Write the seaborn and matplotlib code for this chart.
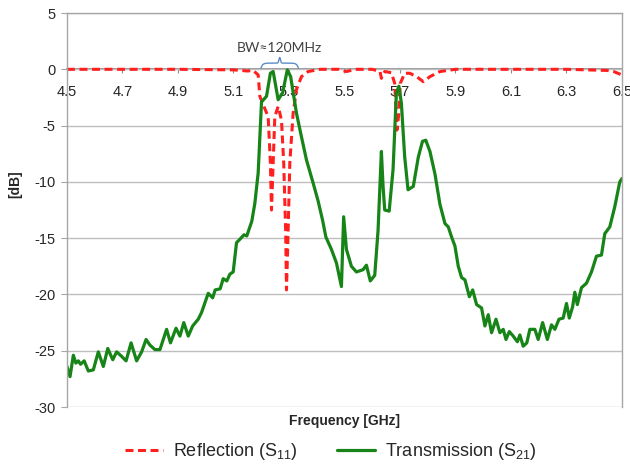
import numpy as np
import pandas as pd
import matplotlib
matplotlib.use("Agg")
import matplotlib.pyplot as plt
import seaborn as sns

# transmission S21
freq_s21 = [4.500, 4.511, 4.523, 4.532, 4.541, 4.549, 4.562, 4.577, 4.595, 4.613,
            4.631, 4.647, 4.665, 4.679, 4.697, 4.713, 4.731, 4.751, 4.769, 4.785,
            4.799, 4.817, 4.835, 4.859, 4.873, 4.893, 4.907, 4.921, 4.937, 4.953,
            4.973, 4.985, 5.009, 5.025, 5.034, 5.052, 5.063, 5.076, 5.087, 5.099,
            5.111, 5.123, 5.138, 5.148, 5.166, 5.177, 5.189, 5.201, 5.219, 5.233,
            5.243, 5.261, 5.277, 5.294, 5.306, 5.327, 5.345, 5.363, 5.387, 5.405,
            5.421, 5.433, 5.453, 5.471, 5.489, 5.497, 5.507, 5.525, 5.543, 5.567,
            5.579, 5.593, 5.609, 5.621, 5.633, 5.639, 5.645, 5.661, 5.675, 5.687,
            5.696, 5.705, 5.717, 5.729, 5.748, 5.766, 5.781, 5.793, 5.808, 5.826,
            5.844, 5.862, 5.874, 5.886, 5.898, 5.910, 5.922, 5.934, 5.950, 5.962,
            5.976, 5.994, 6.006, 6.018, 6.030, 6.046, 6.060, 6.072, 6.082, 6.094,
            6.108, 6.123, 6.132, 6.144, 6.157, 6.168, 6.186, 6.198, 6.214, 6.231,
            6.246, 6.258, 6.273, 6.288, 6.300, 6.310, 6.322, 6.330, 6.339, 6.354,
            6.372, 6.390, 6.408, 6.426, 6.438, 6.456, 6.474, 6.492, 6.500]
s21 = [-26.4, -27.3, -25.4, -26.1, -25.9, -26.2, -25.9, -26.8, -26.7, -25.1,
       -26.4, -24.8, -25.8, -25.1, -25.5, -25.9, -24.3, -25.9, -25.1, -24.0,
       -24.5, -24.9, -24.9, -23.1, -24.3, -23.0, -23.7, -22.5, -23.7, -22.8,
       -22.2, -21.6, -19.9, -20.3, -19.6, -19.5, -18.6, -18.8, -18.2, -18.0,
       -15.4, -15.1, -14.7, -14.8, -13.5, -11.9, -9.2, -2.9, -2.4, -0.35,
       -0.2, -2.7, -2.1, -0.05, -0.65, -3.9, -6.0, -8.05, -10.1, -11.7,
       -13.4, -14.9, -16.0, -17.2, -19.3, -13.1, -16.0, -17.5, -18.0, -17.8,
       -17.4, -18.8, -18.3, -14.3, -7.3, -10.4, -12.5, -12.6, -8.9, -2.1,
       -1.5, -3.0, -7.8, -10.7, -10.4, -7.8, -6.4, -6.3, -7.3, -9.3,
       -12.0, -13.7, -14.0, -14.9, -15.7, -17.5, -18.5, -18.7, -20.2, -19.6,
       -20.9, -21.2, -22.8, -21.8, -23.4, -22.2, -23.4, -23.1, -24.0, -23.3,
       -23.7, -24.2, -23.6, -24.6, -24.3, -23.1, -23.1, -24.0, -22.5, -24.0,
       -22.7, -23.1, -22.2, -22.1, -20.8, -22.1, -21.1, -19.8, -20.9, -19.4,
       -19.0, -18.0, -16.6, -16.5, -14.6, -14.0, -12.2, -10.0, -9.7]

# reflection S11
freq_s11 = [4.500, 4.700, 4.900, 5.100, 5.150, 5.171, 5.189, 5.195, 5.213, 5.225,
            5.233, 5.237, 5.243, 5.249, 5.261, 5.273, 5.281, 5.288, 5.291, 5.297,
            5.303, 5.315, 5.327, 5.345, 5.369, 5.412, 5.480, 5.507, 5.540, 5.600,
            5.628, 5.633, 5.645, 5.669, 5.681, 5.689, 5.696, 5.701, 5.717, 5.735,
            5.760, 5.784, 5.808, 5.844, 5.900, 6.100, 6.300, 6.445, 6.470, 6.500]
s11 = [0.0, 0.0, 0.0, -0.05, -0.15, -0.1, -0.5, -2.4, -3.5, -4.2,
       -8.3, -12.5, -8.3, -4.2, -3.3, -4.5, -8.3, -14.3, -19.6, -14.3,
       -8.3, -3.9, -1.8, -0.65, -0.2, 0.0, 0.0, -0.2, 0.0, 0.0,
       -0.2, -0.8, -0.2, -0.3, -1.25, -5.4, -3.9, -1.25, -0.35, -0.35,
       -0.65, -1.1, -0.65, -0.2, 0.0, 0.0, 0.0, -0.1, -0.2, -0.5]

x_ticks = [4.5, 4.7, 4.9, 5.1, 5.3, 5.5, 5.7, 5.9, 6.1, 6.3, 6.5]
y_ticks = [5, 0, -5, -10, -15, -20, -25, -30]
bw_label = "BW\u2248120MHz"
bw_lo, bw_hi = 5.199, 5.334

sns.set_theme(style="white")
plt.rcParams["font.family"] = ["Liberation Sans", "DejaVu Sans"]
plt.rcParams["mathtext.fontset"] = "custom"
plt.rcParams["mathtext.rm"] = "Liberation Sans"
plt.rcParams["axes.unicode_minus"] = False

df11 = pd.DataFrame({"f": freq_s11, "db": s11})
df21 = pd.DataFrame({"f": freq_s21, "db": s21})

fig = plt.figure(figsize=(6.3, 4.68), dpi=100)
ax = fig.add_axes([0.1063, 0.1303, 0.8810, 0.8419])

sns.lineplot(data=df11, x="f", y="db", ax=ax, estimator=None, color="#FF1F1F",
             linewidth=2.2, linestyle=(0, (2.6, 1.5)),
             label="Reflection (S$_{\\mathregular{11}}$)")
sns.lineplot(data=df21, x="f", y="db", ax=ax, estimator=None, color="#178417",
             linewidth=2.3, label="Transmission (S$_{\\mathregular{21}}$)")

ax.set_xlim(4.5, 6.5)
ax.set_ylim(-30, 5)
ax.set_yticks(y_ticks)
ax.set_xticks(x_ticks)
ax.set_xticklabels([f"{v:.1f}" for v in x_ticks])
ax.yaxis.grid(True, color="#BEBEBE", linewidth=1.0)
ax.set_axisbelow(True)

for side in ["top", "right", "left"]:
    ax.spines[side].set_visible(True)
    ax.spines[side].set_color("#A6A6A6")
    ax.spines[side].set_linewidth(1.0)
ax.spines["bottom"].set_position(("data", 0))
ax.spines["bottom"].set_color("#8C8C8C")
ax.spines["bottom"].set_zorder(0.5)

ax.tick_params(axis="y", direction="out", length=4, width=0.8, color="#A6A6A6",
               labelsize=10.5, pad=4, left=True)
ax.tick_params(axis="x", direction="out", length=3, width=0.8, color="#8C8C8C",
               labelsize=10.5, pad=8, bottom=True)

ax.set_xlabel("Frequency [GHz]", fontsize=10, fontweight="bold")
ax.xaxis.set_label_coords(0.50, -0.018)
ax.set_ylabel("[dB]", fontsize=10, fontweight="bold")
ax.yaxis.set_label_coords(-0.08, 0.565)

# bandwidth brace
t = np.linspace(0, 1, 200)
half = np.where(t < 0.5, t / 0.5, (1 - t) / 0.5)
brace_y = 0.1 + 0.45 * (1 - np.exp(-half * 12)) + 0.5 * np.exp(-((t - 0.5) / 0.03) ** 2)
ax.plot(bw_lo + t * (bw_hi - bw_lo), brace_y, color="#5B8CC6", linewidth=1.0)
ax.text((bw_lo + bw_hi) / 2, 1.35, bw_label, ha="center", va="bottom",
        fontsize=10, color="#404040", family=["Lato", "DejaVu Sans"])

leg = ax.legend(loc="upper center", bbox_to_anchor=(0.475, -0.055), ncol=2,
                frameon=False, fontsize=13, handlelength=2.1, handletextpad=0.55,
                columnspacing=2.2, borderaxespad=0.3)

fig.savefig("out.png", dpi=100)
